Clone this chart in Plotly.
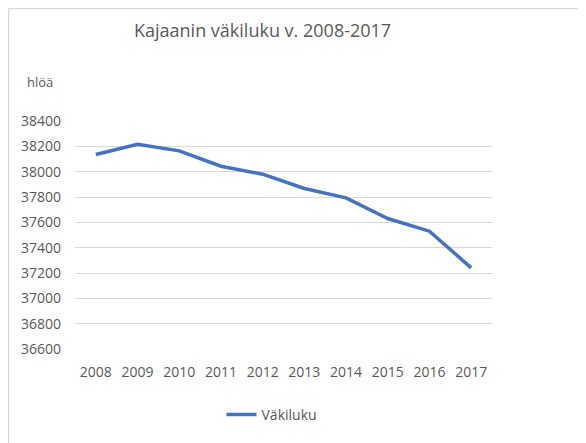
import plotly.graph_objects as go

years = ["2008", "2009", "2010", "2011", "2012", "2013", "2014", "2015", "2016", "2017"]
population = [38135, 38216, 38164, 38043, 37980, 37867, 37793, 37630, 37530, 37241]
y_ticks = [36600, 36800, 37000, 37200, 37400, 37600, 37800, 38000, 38200, 38400]
y_tick_text = [str(v) for v in y_ticks]

# page is drawn with an 8px body margin; lay out in page pixels, then shift
OFF = 8
W, H = 586 - OFF, 443 - OFF
L, R, T, B = 75 - OFF, 94, 121 - OFF, 94
pw, ph = W - L - R, H - T - B

def px(x):
    return (x - OFF - L) / pw

def py(y):
    return 1 - (y - OFF - T) / ph

font = "Open Sans"
grey = "#595959"

fig = go.Figure()
fig.add_trace(go.Scatter(
    x=years, y=population, mode="lines", name="Väkiluku",
    line=dict(color="#4472C4", width=3.5),
))

fig.update_layout(
    width=W, height=H,
    margin=dict(l=L, r=R, t=T, b=B),
    paper_bgcolor="white", plot_bgcolor="white",
    font=dict(family=font, color=grey, size=14),
    showlegend=True,
    legend=dict(orientation="h", x=px(272), xanchor="center", y=py(415), yanchor="middle",
                font=dict(size=14, color=grey), itemwidth=30),
    xaxis=dict(type="category", range=[-0.5, 9.5], showgrid=False, showline=False, ticks="",
               tickfont=dict(size=14, color=grey), ticklabelstandoff=13),
    yaxis=dict(range=[36600, 38400], tickvals=y_ticks, ticktext=y_tick_text,
               showgrid=True, gridcolor="#d9d9d9",
               gridwidth=1, zeroline=False, showline=False, ticks="",
               tickfont=dict(size=14, color=grey), ticklabelstandoff=13),
    shapes=[
        dict(type="line", xref="paper", yref="paper",
             x0=px(8.5), x1=px(600), y0=py(8.5), y1=py(8.5),
             line=dict(color="#d9d9d9", width=1.5)),
        dict(type="line", xref="paper", yref="paper",
             x0=px(8.5), x1=px(8.5), y0=py(8.5), y1=py(460),
             line=dict(color="#d9d9d9", width=1.5)),
    ],
    annotations=[
        dict(text="Kajaanin väkiluku v. 2008-2017", xref="paper", yref="paper",
             x=px(262), y=py(30), xanchor="center", yanchor="middle", showarrow=False,
             font=dict(size=18, color=grey, family=font)),
        dict(text="hlöä", xref="paper", yref="paper", x=px(25), y=py(82),
             xanchor="left", yanchor="middle", showarrow=False,
             font=dict(size=13, color=grey, family=font)),
    ],
)

fig.write_html("out.html")
